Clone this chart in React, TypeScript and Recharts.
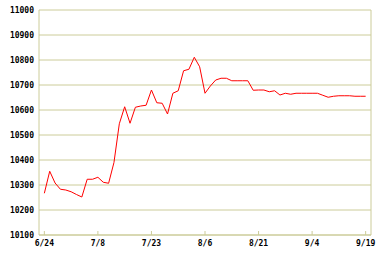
import React from "react";
import { CartesianGrid, Line, LineChart, ReferenceLine, XAxis, YAxis } from "recharts";

const GRID = "#cccc99";
const FONT = "'DejaVu Sans Mono', monospace";

// daily closes, one per trading day from 6/24 to 9/19
const CLOSES = [
  10267, 10355, 10308, 10283, 10280, 10273, 10262, 10252, 10323, 10323,
  10331, 10311, 10307, 10390, 10545, 10613, 10547, 10611, 10616, 10619,
  10680, 10629, 10627, 10584, 10667, 10677, 10757, 10763, 10811, 10773,
  10667, 10696, 10720, 10727, 10727, 10717, 10717, 10717, 10717, 10679,
  10680, 10680, 10673, 10677, 10660, 10667, 10663, 10667, 10667, 10667,
  10667, 10667, 10659, 10651, 10655, 10657, 10657, 10657, 10655, 10655,
  10655,
];
const DATE_TICKS = [0, 10, 20, 30, 40, 50, 60];
const DATE_LABELS = ["6/24", "7/8", "7/23", "8/6", "8/21", "9/4", "9/19"];
const PRICE_TICKS = [10100, 10200, 10300, 10400, 10500, 10600, 10700, 10800, 10900, 11000];

const data = CLOSES.map((close, i) => ({ i, close }));

function DateTick({ x, y, payload }: { x?: number; y?: number; payload?: { value: number } }) {
  const idx = DATE_TICKS.indexOf(payload?.value ?? -1);
  return (
    <g>
      <line x1={x} x2={x} y1={(y ?? 0) - 4} y2={y} stroke={GRID} />
      <text
        x={x}
        y={(y ?? 0) + 11}
        textAnchor="middle"
        fontSize={8}
        fontWeight="bold"
        fontFamily={FONT}
        fill="#000"
      >
        {DATE_LABELS[idx]}
      </text>
    </g>
  );
}

export default function App() {
  return (
    <div style={{ position: "absolute", left: 0, top: 0, width: 382, height: 258, background: "#fff" }}>
      <LineChart width={382} height={258} data={data} margin={{ top: 10, right: 11, left: 0, bottom: 0 }}>
        <CartesianGrid stroke={GRID} vertical={false} />
        <XAxis
          dataKey="i"
          type="number"
          domain={[-1, 61]}
          ticks={DATE_TICKS}
          height={23}
          tickSize={0}
          tickMargin={0}
          tickLine={false}
          axisLine={{ stroke: GRID }}
          tick={<DateTick />}
          interval={0}
        />
        <YAxis
          domain={[10100, 11000]}
          ticks={PRICE_TICKS}
          width={39}
          tickSize={0}
          tickMargin={5}
          tickLine={false}
          axisLine={{ stroke: GRID }}
          interval={0}
          tick={{ fontSize: 8, fontWeight: "bold", fontFamily: FONT, fill: "#000" }}
        />
        <ReferenceLine x={61} stroke={GRID} />
        <Line
          dataKey="close"
          stroke="#ff0000"
          strokeWidth={1}
          dot={false}
          isAnimationActive={false}
          type="linear"
        />
      </LineChart>
    </div>
  );
}
